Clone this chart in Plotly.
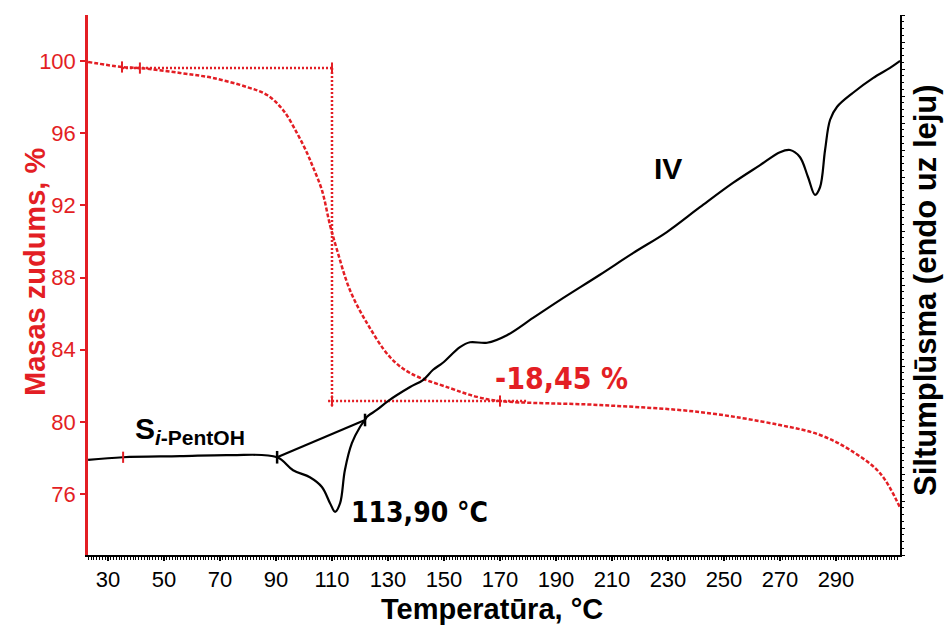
import plotly.graph_objects as go

# ---- data ----
tg_temp = [22.9, 35.0, 41.4, 55.7, 67.5, 79.6, 86.8, 92.5, 97.5, 101.1, 103.2, 106.4,
           109.3, 111.8, 116.4, 122.5, 130.7, 137.9, 152.1, 161.8, 170.0, 205.7,
           241.4, 270.0, 284.3, 295.0, 305.7, 312.9]
tg_mass = [99.95, 99.67, 99.61, 99.34, 99.06, 98.56, 98.12, 97.29, 96.01, 94.90, 94.13, 92.85,
           90.91, 89.53, 87.31, 85.48, 83.60, 82.71, 81.88, 81.39, 81.16, 80.94,
           80.55, 79.83, 79.28, 78.45, 77.17, 75.24]

dsc_temp = [22.9, 35.4, 55.7, 73.6, 90.4, 96.1, 102.1, 106.4, 109.3, 111.1, 112.9, 114.6,
            117.1, 120.0, 121.8, 122.5, 126.1, 130.0, 137.9, 142.5, 146.1, 149.6, 155.7,
            159.3, 165.4, 172.5, 181.8, 191.4, 205.7, 217.5, 229.6, 241.4, 253.2, 262.9,
            270.0, 273.6, 277.1, 280.0, 282.5, 284.3, 286.1, 287.9, 290.4, 296.1, 303.2,
            309.3, 312.9]
dsc_flow = [17.6, 18.1, 18.3, 18.5, 18.1, 15.7, 14.4, 12.6, 9.6, 8.0, 9.6, 15.7,
            20.7, 23.7, 25.0, 25.6, 26.9, 28.5, 31.1, 32.4, 34.3, 35.6, 38.5,
            39.4, 39.3, 40.7, 43.9, 47.2, 51.9, 55.9, 59.8, 64.4, 68.9, 72.2,
            74.6, 75.0, 73.7, 70.0, 66.7, 68.1, 75.0, 80.6, 83.0, 85.6, 88.3,
            90.2, 91.5]

# step construction (TG)
step_top_temp = [35.0, 110.0]
step_top_mass = [99.61, 99.61]
step_vert_temp = [110.0, 110.0]
step_vert_mass = [99.61, 80.83]
step_bot_temp = [108.6, 180.0]
step_bot_mass = [81.16, 81.16]
tg_marks_temp = [35.0, 41.4, 110.0, 110.0, 170.0]
tg_marks_mass = [99.67, 99.61, 99.61, 81.16, 81.16]

# DSC peak baseline (tangent between onset/endset)
peak_base_temp = [90.4, 121.8]
peak_base_flow = [18.1, 25.0]
dsc_red_mark_temp = [35.4]
dsc_red_mark_flow = [18.1]

x_ticks = list(range(30, 300, 20))
y_ticks = [76, 80, 84, 88, 92, 96, 100]

RED = "#e31e24"
NARROW = "Liberation Sans Narrow, Arial Narrow, DejaVu Sans Condensed, Liberation Sans, sans-serif"
REG = "Liberation Sans, Arial, sans-serif"
BOLD = "Liberation Sans, Arial, sans-serif"

fig = go.Figure()

fig.add_trace(go.Scatter(x=tg_temp, y=tg_mass, mode="lines", line=dict(color=RED, width=2.5, dash="4px,2px"),
                         line_shape="spline", hoverinfo="skip", showlegend=False))
for tx, ty in [(step_top_temp, step_top_mass), (step_vert_temp, step_vert_mass), (step_bot_temp, step_bot_mass)]:
    fig.add_trace(go.Scatter(x=tx, y=ty, mode="lines", line=dict(color=RED, width=2.5, dash="2px,2px"),
                             hoverinfo="skip", showlegend=False))
fig.add_trace(go.Scatter(x=tg_marks_temp, y=tg_marks_mass, mode="markers",
                         marker=dict(symbol="line-ns", size=8, line=dict(color=RED, width=2)),
                         hoverinfo="skip", showlegend=False))

fig.add_trace(go.Scatter(x=dsc_temp, y=dsc_flow, yaxis="y2", mode="lines", line=dict(color="black", width=2.2),
                         line_shape="spline", hoverinfo="skip", showlegend=False))
fig.add_trace(go.Scatter(x=peak_base_temp, y=peak_base_flow, yaxis="y2", mode="lines+markers",
                         line=dict(color="black", width=2.2),
                         marker=dict(symbol="line-ns", size=9, line=dict(color="black", width=2.5)),
                         hoverinfo="skip", showlegend=False))
fig.add_trace(go.Scatter(x=dsc_red_mark_temp, y=dsc_red_mark_flow, yaxis="y2", mode="markers",
                         marker=dict(symbol="line-ns", size=8, line=dict(color=RED, width=2)),
                         hoverinfo="skip", showlegend=False))

L, R, T, B = 88, 49, 15, 80
W, H = 949, 635
pw, ph = W - L - R, H - T - B


def px(xp):
    return (xp - L) / pw


def py(yp):
    return (H - B - yp) / ph


annotations = [
    dict(text="<b>Masas zudums, %</b>", x=px(35), y=py(272), textangle=-90,
         font=dict(family=BOLD, size=29, color=RED)),
    dict(text="<b>Temperatūra, °C</b>", x=px(492), y=py(609),
         font=dict(family=BOLD, size=29, color="black")),
    dict(text="<b>Siltumplūsma (endo uz leju)</b>", x=px(925), y=py(290), textangle=-90,
         font=dict(family=BOLD, size=31, color="black")),
    dict(text="<b>-18,45 %</b>", x=px(493), y=py(378), xanchor="left",
         font=dict(family=NARROW, size=30, color=RED)),
    dict(text="<b>113,90 °C</b>", x=px(349), y=py(512), xanchor="left",
         font=dict(family=NARROW, size=28, color="black")),
    dict(text="<b>IV</b>", x=px(668), y=py(168),
         font=dict(family=BOLD, size=30, color="black")),
    dict(text="<b>S<sub><i>i</i>-PentOH</sub></b>", x=px(133), y=py(430), xanchor="left",
         font=dict(family=BOLD, size=30, color="black")),
]
for a in annotations:
    a.update(xref="paper", yref="paper", showarrow=False)
    a.setdefault("xanchor", "center")
    a.setdefault("yanchor", "middle")

fig.update_layout(
    width=W, height=H,
    margin=dict(l=L, r=R, t=T, b=B),
    paper_bgcolor="white", plot_bgcolor="white",
    showlegend=False,
    annotations=annotations,
    xaxis=dict(range=[22.86, 312.86], tickvals=x_ticks, ticktext=[str(v) for v in x_ticks],
               showgrid=False, zeroline=False, showline=True, linecolor="black", linewidth=2,
               ticks="outside", ticklen=4, tickcolor="black", tickwidth=1.5,
               minor=dict(dtick=1, tick0=30, ticks="outside", ticklen=3, tickcolor="black", tickwidth=1),
               tickfont=dict(family=REG, size=22, color="black")),
    yaxis=dict(range=[72.63, 102.55], tickvals=y_ticks, ticktext=[str(v) for v in y_ticks],
               showgrid=False, zeroline=False, showline=True, linecolor=RED, linewidth=2.5,
               ticks="outside", ticklen=5, tickcolor=RED, tickwidth=1.5,
               tickfont=dict(family=REG, size=22, color=RED)),
    yaxis2=dict(range=[0, 100], overlaying="y", side="right", showticklabels=False,
                showgrid=False, zeroline=False, showline=True, linecolor="black", linewidth=1.5,
                ticks="outside", ticklen=3, tickcolor="black", dtick=5,
                minor=dict(dtick=1.25, ticks="outside", ticklen=2, tickcolor="black")),
)

fig.write_html("out.html")
